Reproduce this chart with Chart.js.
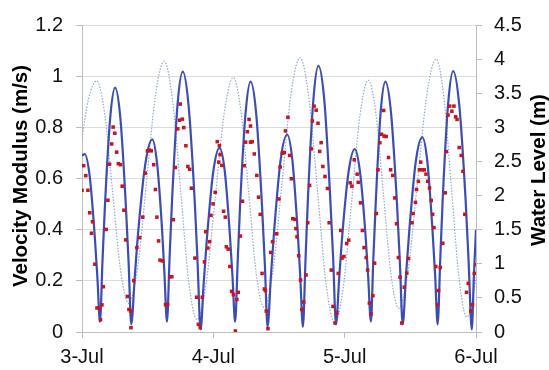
<!DOCTYPE html>
<html>
<head>
<meta charset="utf-8">
<script src="https://cdn.jsdelivr.net/npm/chart.js@4.4.1/dist/chart.umd.min.js"></script>
<style>
html,body{margin:0;padding:0;background:#fff;}
#wrap{width:549px;height:370px;}
</style>
</head>
<body>
<div id="wrap"><canvas id="c" width="549" height="370"></canvas></div>
<script>
// ---- Data (x in days since 3-Jul 00:00) ----
const dayLabels = ['3-Jul', '4-Jul', '5-Jul', '6-Jul'];
const leftTitle = 'Velocity Modulus (m/s)';
const rightTitle = 'Water Level (m)';

// Modelled velocity modulus (m/s)
const modelX = [0, 0.02, 0.059, 0.098, 0.1175, 0.137,
  0.156, 0.175, 0.214, 0.252, 0.293, 0.334, 0.355, 0.375,
  0.402, 0.428, 0.482, 0.535, 0.572, 0.610, 0.628, 0.647,
  0.667, 0.687, 0.727, 0.767, 0.812, 0.858, 0.880, 0.903,
  0.927, 0.951, 0.999, 1.047, 1.087, 1.126, 1.146, 1.166,
  1.186, 1.205, 1.245, 1.284, 1.327, 1.370, 1.392, 1.413,
  1.438, 1.463, 1.512, 1.562, 1.602, 1.642, 1.662, 1.682,
  1.702, 1.721, 1.761, 1.800, 1.845, 1.889, 1.912, 1.934,
  1.958, 1.981, 2.029, 2.076, 2.117, 2.159, 2.179, 2.200,
  2.218, 2.237, 2.273, 2.310, 2.354, 2.398, 2.420, 2.442,
  2.467, 2.492, 2.541, 2.591, 2.630, 2.669, 2.689, 2.708,
  2.728, 2.747, 2.787, 2.826, 2.873, 2.921, 2.944, 2.968,
  2.984, 3.0];
const modelV = [0.69, 0.695, 0.607, 0.368, 0.210, 0.04,
  0.277, 0.498, 0.832, 0.955, 0.831, 0.493, 0.270, 0.03,
  0.217, 0.392, 0.656, 0.753, 0.657, 0.397, 0.225, 0.04,
  0.293, 0.529, 0.887, 1.018, 0.883, 0.514, 0.271, 0.01,
  0.194, 0.365, 0.625, 0.72, 0.629, 0.38, 0.216, 0.04,
  0.283, 0.51, 0.853, 0.979, 0.85, 0.50, 0.268, 0.02,
  0.215, 0.396, 0.671, 0.772, 0.671, 0.396, 0.215, 0.02,
  0.284, 0.53, 0.903, 1.04, 0.905, 0.535, 0.292, 0.03,
  0.207, 0.373, 0.623, 0.715, 0.625, 0.378, 0.215, 0.04,
  0.283, 0.51, 0.853, 0.979, 0.852, 0.505, 0.276, 0.03,
  0.22, 0.396, 0.664, 0.762, 0.664, 0.396, 0.22, 0.03,
  0.286, 0.525, 0.887, 1.02, 0.885, 0.515, 0.272, 0.01,
  0.22, 0.40];

// Water level (m)
const levelX = [0, 0.05, 0.111, 0.172, 0.233, 0.294, 0.355,
  0.423, 0.491, 0.558, 0.626, 0.688, 0.751, 0.813, 0.875,
  0.944, 1.014, 1.083, 1.152, 1.210, 1.269, 1.327, 1.385,
  1.454, 1.523, 1.591, 1.660, 1.726, 1.793, 1.859, 1.925,
  1.989, 2.053, 2.116, 2.180, 2.238, 2.295, 2.353, 2.410,
  2.482, 2.553, 2.625, 2.696, 2.755, 2.813, 2.872, 2.930,
  2.965, 3.0];
const levelV = [2.85, 3.42, 3.68, 3.204, 2.05, 0.896, 0.42,
  0.938, 2.195, 3.452, 3.97, 3.417, 2.075, 0.733, 0.18,
  0.698, 1.955, 3.212, 3.73, 3.238, 2.045, 0.852, 0.36,
  0.894, 2.19, 3.486, 4.02, 3.452, 2.075, 0.698, 0.13,
  0.65, 1.91, 3.17, 3.69, 3.202, 2.02, 0.838, 0.35,
  0.883, 2.175, 3.467, 4.0, 3.448, 2.11, 0.772, 0.22,
  0.38, 0.8];

// Measured velocity modulus (m/s)
const obsX = [0.000, 0.013, 0.029, 0.045, 0.059, 0.072, 0.080, 0.098, 0.114, 0.130, 0.141, 0.152, 0.162,
  0.184, 0.197, 0.210, 0.226, 0.237, 0.250, 0.264, 0.277, 0.293, 0.306, 0.319, 0.333, 0.346, 0.357, 0.370, 0.373, 0.394,
  0.418, 0.439, 0.463, 0.482, 0.498, 0.514, 0.527, 0.546, 0.559, 0.570, 0.583, 0.594, 0.612, 0.636, 0.652, 0.668, 0.684,
  0.695, 0.711, 0.729, 0.743, 0.748, 0.764, 0.775, 0.791, 0.806, 0.820, 0.833, 0.860, 0.873, 0.886, 0.900, 0.916, 0.932, 0.942,
  0.958, 0.972, 0.982, 0.998, 1.014, 1.030, 1.041, 1.046, 1.051, 1.065, 1.078, 1.091, 1.099, 1.113, 1.126, 1.139, 1.153, 1.168, 1.179, 1.190, 1.206,
  1.222, 1.235, 1.246, 1.259, 1.272, 1.283, 1.283, 1.296, 1.312, 1.331, 1.344, 1.357, 1.371, 1.389, 1.397, 1.403, 1.416, 1.437, 1.451,
  1.483, 1.499, 1.509, 1.525, 1.541, 1.549, 1.568, 1.581, 1.594, 1.605, 1.621, 1.629, 1.637, 1.650, 1.664, 1.674, 1.688, 1.706, 1.719,
  1.733, 1.746, 1.754, 1.767, 1.783, 1.797, 1.810, 1.821, 1.834, 1.850, 1.869, 1.882, 1.898, 1.911, 1.927, 1.940, 1.951, 1.970, 1.980, 1.994, 2.015, 2.031,
  2.042, 2.055, 2.073, 2.095, 2.103, 2.121, 2.135, 2.148, 2.164, 2.175, 2.188, 2.201, 2.215, 2.228, 2.241,
  2.254, 2.268, 2.281, 2.297, 2.300, 2.316, 2.334, 2.350, 2.366, 2.382, 2.395, 2.409, 2.422, 2.435, 2.454, 2.473, 2.486, 2.513,
  2.521, 2.539, 2.547, 2.561, 2.569, 2.579, 2.590, 2.606, 2.619, 2.632, 2.646, 2.659, 2.670, 2.680, 2.694, 2.707, 2.715, 2.728, 2.747,
  2.766, 2.774, 2.787, 2.800, 2.816, 2.832, 2.845, 2.856, 2.872, 2.888, 2.901, 2.915, 2.928, 2.941, 2.960, 2.973, 2.987, 3.000];
const obsV = [0.554, 0.650, 0.611, 0.554, 0.466, 0.386, 0.431, 0.265, 0.094, 0.094, 0.048, 0.106, 0.177,
  0.401, 0.515, 0.656, 0.735, 0.801, 0.777, 0.703, 0.658, 0.654, 0.570, 0.476, 0.360, 0.139, 0.088, 0.082, 0.017, 0.201,
  0.330, 0.369, 0.449, 0.621, 0.708, 0.711, 0.708, 0.654, 0.557, 0.449, 0.356, 0.281, 0.278, 0.107, 0.107, 0.216, 0.216,
  0.439, 0.643, 0.794, 0.828, 0.891, 0.832, 0.799, 0.728, 0.647, 0.636, 0.562, 0.289, 0.136, 0.030, 0.017, 0.136, 0.274, 0.392,
  0.328, 0.353, 0.456, 0.501, 0.546, 0.744, 0.664, 0.728, 0.693, 0.651, 0.472, 0.449, 0.333, 0.324, 0.256, 0.159, 0.146, 0.004, 0.127, 0.155, 0.375,
  0.511, 0.650, 0.742, 0.783, 0.831, 0.805, 0.742, 0.744, 0.696, 0.612, 0.527, 0.460, 0.229, 0.168, 0.162, 0.082, 0.013, 0.311, 0.353,
  0.384, 0.520, 0.645, 0.699, 0.702, 0.786, 0.839, 0.690, 0.599, 0.443, 0.440, 0.404, 0.372, 0.298, 0.203, 0.088, 0.117, 0.223, 0.427,
  0.573, 0.716, 0.825, 0.883, 0.867, 0.816, 0.706, 0.740, 0.647, 0.608, 0.561, 0.427, 0.242, 0.100, 0.035, 0.075, 0.229, 0.397, 0.289, 0.295, 0.346, 0.359,
  0.583, 0.570, 0.673, 0.617, 0.585, 0.505, 0.397, 0.330, 0.291, 0.242, 0.113, 0.071, 0.142, 0.269, 0.463,
  0.634, 0.740, 0.773, 0.866, 0.766, 0.764, 0.682, 0.634, 0.612, 0.524, 0.423, 0.291, 0.214, 0.035, 0.175, 0.230, 0.287, 0.427,
  0.463, 0.507, 0.557, 0.589, 0.634, 0.664, 0.634, 0.634, 0.617, 0.589, 0.563, 0.514, 0.460, 0.408, 0.256, 0.107, 0.162, 0.252, 0.347,
  0.544, 0.705, 0.848, 0.883, 0.863, 0.883, 0.841, 0.831, 0.721, 0.690, 0.628, 0.460, 0.155, 0.190, 0.082, 0.107, 0.229, 0.263];

const toXY = (xs, ys) => xs.map((x, i) => ({ x: x, y: ys[i] }));

const FONT = '"Liberation Sans", Arial, sans-serif';

const titlePlugin = {
  id: 'axisTitles',
  afterDraw(chart) {
    const ctx = chart.ctx;
    ctx.save();
    ctx.font = 'bold 20.5px ' + FONT;
    ctx.fillStyle = '#000';
    ctx.textAlign = 'center';
    ctx.textBaseline = 'middle';
    [[21, 176, leftTitle], [539, 170, rightTitle]].forEach(([x, y, t]) => {
      ctx.save();
      ctx.translate(x, y);
      ctx.rotate(-Math.PI / 2);
      ctx.fillText(t, 0, 0);
      ctx.restore();
    });
    ctx.restore();
  }
};

const bgPlugin = {
  id: 'bg',
  beforeDraw(chart) {
    const ctx = chart.ctx;
    ctx.save();
    ctx.fillStyle = '#fff';
    ctx.fillRect(0, 0, chart.width, chart.height);
    ctx.restore();
  }
};

new Chart(document.getElementById('c'), {
  type: 'line',
  data: {
    datasets: [
      {
        label: 'Measured',
        data: toXY(obsX, obsV),
        yAxisID: 'y',
        showLine: false,
        pointStyle: 'rect',
        pointRadius: 2.5,
        pointBorderWidth: 0,
        pointBackgroundColor: '#c8141e',
        pointBorderColor: '#c8141e',
        order: 0
      },
      {
        label: 'Model',
        data: toXY(modelX, modelV),
        yAxisID: 'y',
        borderColor: '#3b4db5',
        borderWidth: 2.2,
        pointRadius: 0,
        cubicInterpolationMode: 'monotone',
        fill: false,
        order: 1
      },
      {
        label: 'Water level',
        data: toXY(levelX, levelV),
        yAxisID: 'y2',
        borderColor: '#8ea9cf',
        borderWidth: 1.2,
        borderDash: [1.5, 1.5],
        pointRadius: 0,
        cubicInterpolationMode: 'monotone',
        fill: false,
        order: 2
      }
    ]
  },
  options: {
    responsive: false,
    animation: false,
    layout: { padding: { top: 24, left: 0, right: 0, bottom: 0 } },
    plugins: { legend: { display: false }, tooltip: { enabled: false } },
    scales: {
      x: {
        type: 'linear',
        min: 0, max: 3,
        afterFit: s => { s.height = 38; },
        afterBuildTicks: s => { s.ticks = dayLabels.map((_, i) => ({ value: i })); },
        ticks: {
          callback: v => dayLabels[v],
          color: '#111',
          font: { size: 20, family: FONT },
          padding: 7,
          maxRotation: 0
        },
        grid: { drawOnChartArea: false, tickLength: 6, color: '#bdbdbd' },
        border: { color: '#bdbdbd' }
      },
      y: {
        position: 'left',
        min: 0, max: 1.2,
        afterFit: s => { s.width = 82; },
        ticks: {
          stepSize: 0.2,
          callback: v => String(Math.round(v * 10) / 10),
          color: '#111',
          font: { size: 20, family: FONT },
          padding: 13
        },
        grid: { color: '#dcdcdc', tickLength: 6, tickColor: '#bdbdbd' },
        border: { color: '#bdbdbd' }
      },
      y2: {
        position: 'right',
        min: 0, max: 4.5,
        afterFit: s => { s.width = 73; },
        ticks: {
          stepSize: 0.5,
          callback: v => String(Math.round(v * 10) / 10),
          color: '#111',
          font: { size: 20, family: FONT },
          padding: 12
        },
        grid: { drawOnChartArea: false, tickLength: 6, color: '#bdbdbd' },
        border: { color: '#bdbdbd' }
      }
    }
  },
  plugins: [bgPlugin, titlePlugin]
});
</script>
</body>
</html>
